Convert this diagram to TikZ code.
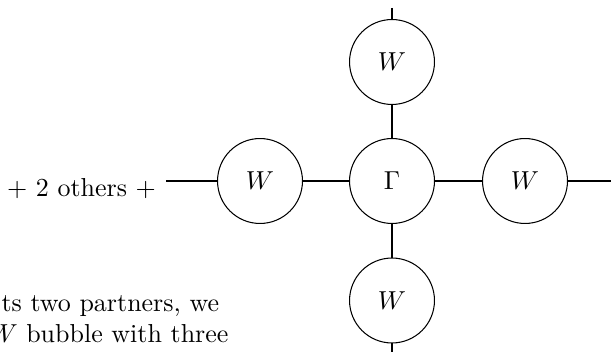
\documentclass[tikz,border=0pt]{standalone}
\begin{document}
\begin{tikzpicture}[x=0.385pt,y=-0.385pt,
  bub/.style={draw, circle, minimum size=32.7pt, inner sep=0pt},
  conn/.style={line width=0.4pt},
  txt/.style={anchor=base west, inner sep=0pt}]
\useasboundingbox (0,0) rectangle (611,352);
\node[bub] (g)  at (392,181)   {$\Gamma$};
\node[bub] (wt) at (392,62)    {$W$};
\node[bub] (wb) at (392,300.5) {$W$};
\node[bub] (wl) at (260,181)   {$W$};
\node[bub] (wr) at (525,181)   {$W$};
\coordinate (tt) at (392,8);
\coordinate (bb) at (392,356);
\coordinate (ll) at (166,181);
\coordinate (rr) at (620,181);
\draw[conn] (tt) -- (wt);
\draw[conn] (wt) -- (g);
\draw[conn] (g) -- (wb);
\draw[conn] (wb) -- (bb);
\draw[conn] (ll) -- (wl);
\draw[conn] (wl) -- (g);
\draw[conn] (g) -- (wr);
\draw[conn] (wr) -- (rr);
\node[txt] (others) at (6.5,196.5) {+ 2 others +};
\node[txt] (l1) at (1,311) {ts two partners, we};
\node[txt] (l2) at (-11,342) {$W$ bubble with three};
\end{tikzpicture}
\end{document}
